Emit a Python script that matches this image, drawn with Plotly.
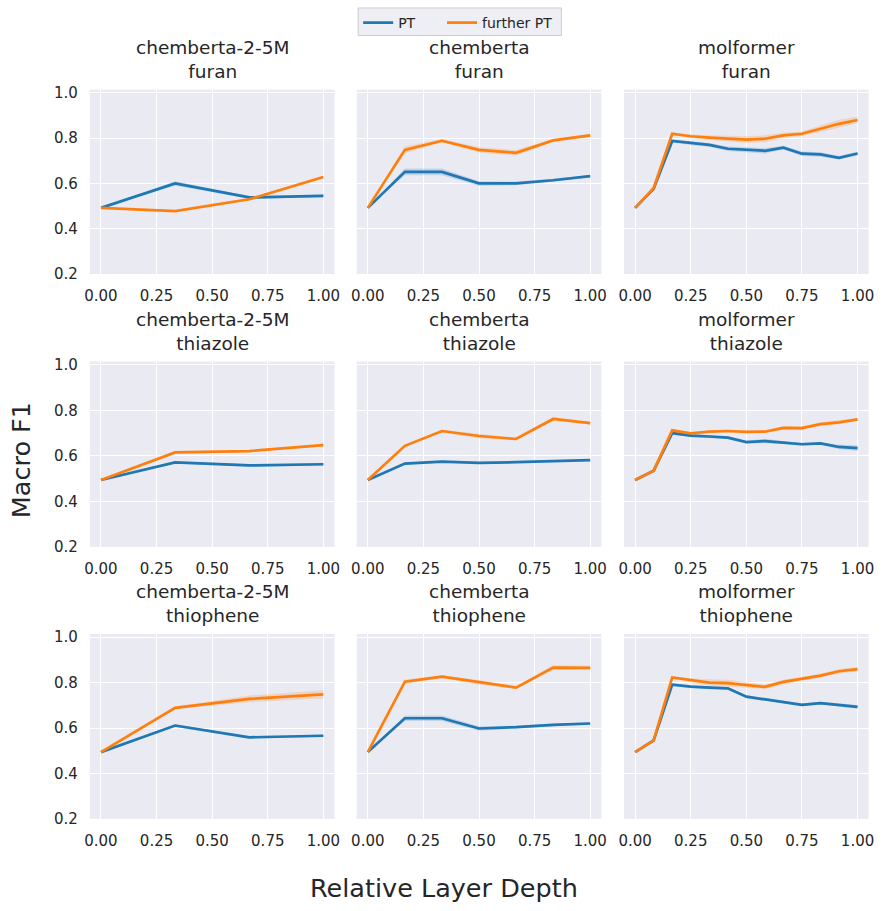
import plotly.graph_objects as go

# ---------------- data ----------------
models = ["chemberta-2-5M", "chemberta", "molformer"]
datasets = ["furan", "thiazole", "thiophene"]

x_c25 = [0, 1/3, 2/3, 1]
x_chem = [0, 1/6, 2/6, 3/6, 4/6, 5/6, 1]
x_mol = [i / 12 for i in range(13)]

# furan
furan_c25_pt = [0.492, 0.600, 0.538, 0.545]
furan_c25_fpt = [0.492, 0.478, 0.530, 0.628]
furan_chem_pt = [0.492, 0.651, 0.651, 0.600, 0.600, 0.614, 0.632]
furan_chem_fpt = [0.492, 0.748, 0.788, 0.748, 0.735, 0.790, 0.812]
furan_mol_pt = [0.492, 0.576, 0.787, 0.777, 0.770, 0.753, 0.748, 0.744, 0.758, 0.731, 0.728, 0.713, 0.732]
furan_mol_fpt = [0.492, 0.580, 0.819, 0.808, 0.802, 0.797, 0.793, 0.797, 0.812, 0.819, 0.842, 0.863, 0.880]

# thiazole
thiazole_c25_pt = [0.494, 0.571, 0.558, 0.563]
thiazole_c25_fpt = [0.494, 0.615, 0.621, 0.647]
thiazole_chem_pt = [0.494, 0.566, 0.575, 0.569, 0.572, 0.576, 0.581]
thiazole_chem_fpt = [0.494, 0.644, 0.709, 0.687, 0.674, 0.762, 0.744]
thiazole_mol_pt = [0.494, 0.535, 0.700, 0.689, 0.685, 0.680, 0.660, 0.665, 0.658, 0.651, 0.655, 0.639, 0.634]
thiazole_mol_fpt = [0.494, 0.535, 0.712, 0.699, 0.706, 0.709, 0.705, 0.706, 0.723, 0.722, 0.739, 0.747, 0.760]

# thiophene
thiophene_c25_pt = [0.494, 0.611, 0.559, 0.566]
thiophene_c25_fpt = [0.494, 0.689, 0.728, 0.748]
thiophene_chem_pt = [0.494, 0.643, 0.643, 0.598, 0.604, 0.614, 0.620]
thiophene_chem_fpt = [0.494, 0.804, 0.826, 0.801, 0.778, 0.866, 0.865]
thiophene_mol_pt = [0.494, 0.546, 0.791, 0.782, 0.778, 0.775, 0.738, 0.726, 0.713, 0.702, 0.710, 0.702, 0.693]
thiophene_mol_fpt = [0.494, 0.546, 0.823, 0.810, 0.800, 0.798, 0.790, 0.781, 0.803, 0.817, 0.831, 0.850, 0.859]

# confidence-band half widths (estimated)
furan_c25_pt_ci = [0, 0.010, 0.006, 0.006]
furan_c25_fpt_ci = [0, 0.004, 0.005, 0.006]
furan_chem_pt_ci = [0, 0.015, 0.015, 0.010, 0.008, 0.006, 0.005]
furan_chem_fpt_ci = [0, 0.015, 0.008, 0.012, 0.012, 0.006, 0.008]
furan_mol_pt_ci = [0, 0.004, 0.006, 0.008, 0.008, 0.010, 0.010, 0.012, 0.008, 0.010, 0.010, 0.008, 0.008]
furan_mol_fpt_ci = [0, 0.004, 0.006, 0.008, 0.010, 0.012, 0.015, 0.015, 0.012, 0.010, 0.015, 0.018, 0.015]
thiazole_c25_pt_ci = [0, 0.005, 0.005, 0.005]
thiazole_c25_fpt_ci = [0, 0.006, 0.004, 0.006]
thiazole_chem_pt_ci = [0, 0.005, 0.004, 0.004, 0.004, 0.004, 0.004]
thiazole_chem_fpt_ci = [0, 0.004, 0.006, 0.010, 0.006, 0.008, 0.006]
thiazole_mol_pt_ci = [0, 0.004, 0.006, 0.006, 0.006, 0.006, 0.006, 0.010, 0.006, 0.006, 0.006, 0.010, 0.012]
thiazole_mol_fpt_ci = [0, 0.004, 0.006, 0.005, 0.005, 0.005, 0.006, 0.006, 0.008, 0.008, 0.008, 0.008, 0.006]
thiophene_c25_pt_ci = [0, 0.006, 0.006, 0.004]
thiophene_c25_fpt_ci = [0, 0.006, 0.015, 0.018]
thiophene_chem_pt_ci = [0, 0.012, 0.012, 0.010, 0.006, 0.006, 0.005]
thiophene_chem_fpt_ci = [0, 0.010, 0.006, 0.010, 0.006, 0.010, 0.010]
thiophene_mol_pt_ci = [0, 0.005, 0.006, 0.006, 0.006, 0.006, 0.006, 0.006, 0.006, 0.006, 0.006, 0.006, 0.008]
thiophene_mol_fpt_ci = [0, 0.005, 0.006, 0.008, 0.015, 0.015, 0.012, 0.010, 0.010, 0.010, 0.008, 0.010, 0.010]

y_ticks = [0.2, 0.4, 0.6, 0.8, 1.0]
x_ticks = [0.0, 0.25, 0.5, 0.75, 1.0]
x_ticklabels = ["0.00", "0.25", "0.50", "0.75", "1.00"]

panels = [
    [(x_c25, furan_c25_pt, furan_c25_pt_ci, furan_c25_fpt, furan_c25_fpt_ci),
     (x_chem, furan_chem_pt, furan_chem_pt_ci, furan_chem_fpt, furan_chem_fpt_ci),
     (x_mol, furan_mol_pt, furan_mol_pt_ci, furan_mol_fpt, furan_mol_fpt_ci)],
    [(x_c25, thiazole_c25_pt, thiazole_c25_pt_ci, thiazole_c25_fpt, thiazole_c25_fpt_ci),
     (x_chem, thiazole_chem_pt, thiazole_chem_pt_ci, thiazole_chem_fpt, thiazole_chem_fpt_ci),
     (x_mol, thiazole_mol_pt, thiazole_mol_pt_ci, thiazole_mol_fpt, thiazole_mol_fpt_ci)],
    [(x_c25, thiophene_c25_pt, thiophene_c25_pt_ci, thiophene_c25_fpt, thiophene_c25_fpt_ci),
     (x_chem, thiophene_chem_pt, thiophene_chem_pt_ci, thiophene_chem_fpt, thiophene_chem_fpt_ci),
     (x_mol, thiophene_mol_pt, thiophene_mol_pt_ci, thiophene_mol_fpt, thiophene_mol_fpt_ci)],
]

# ---------------- layout geometry ----------------
W, H = 887, 911
col_px = [(85, 333), (355.5, 603.5), (626.5, 874.5)]
row_px = [(85, 272.5), (361.5, 550), (638.5, 826.5)]

BLUE = "#1f77b4"
ORANGE = "#ff7f0e"
BLUE_BAND = "rgba(31,119,180,0.2)"
ORANGE_BAND = "rgba(255,127,14,0.2)"
TXT = "#262626"
FONT = "DejaVu Sans"

fig = go.Figure()
layout_axes = {}
annotations = []

for r in range(3):
    for c in range(3):
        idx = r * 3 + c + 1
        xa = "x" if idx == 1 else f"x{idx}"
        ya = "y" if idx == 1 else f"y{idx}"
        xs, pt, ptci, fpt, fptci = panels[r][c]
        for ys, ci, band in [(pt, ptci, BLUE_BAND), (fpt, fptci, ORANGE_BAND)]:
            upper = [v + e for v, e in zip(ys, ci)]
            lower = [v - e for v, e in zip(ys, ci)]
            fig.add_trace(go.Scatter(
                x=list(xs) + list(xs)[::-1], y=upper + lower[::-1],
                fill="toself", fillcolor=band, line=dict(width=0),
                mode="lines", hoverinfo="skip", showlegend=False,
                xaxis=xa, yaxis=ya))
        for ys, col, name, lg in [(pt, BLUE, "PT", "legend"),
                                   (fpt, ORANGE, "further PT", "legend2")]:
            fig.add_trace(go.Scatter(
                x=xs, y=ys, mode="lines", line=dict(color=col, width=2.7),
                name=name, showlegend=(idx == 1), legendgroup=name, legend=lg,
                xaxis=xa, yaxis=ya))

        x0, x1 = col_px[c]
        y0, y1 = row_px[r]
        key_x = "xaxis" if idx == 1 else f"xaxis{idx}"
        key_y = "yaxis" if idx == 1 else f"yaxis{idx}"
        layout_axes[key_x] = dict(
            domain=[x0 / W, x1 / W], anchor=ya, range=[-0.05, 1.05],
            tickvals=x_ticks, ticktext=x_ticklabels,
            showgrid=True, gridcolor="white", gridwidth=1.3,
            zeroline=False, showline=False,
            ticks="outside", ticklen=8, tickcolor="rgba(0,0,0,0)",
            tickfont=dict(family=FONT, size=15, color=TXT))
        layout_axes[key_y] = dict(
            domain=[1 - y1 / H, 1 - y0 / H], anchor=xa, range=[0.2, 1.014],
            tickvals=y_ticks, ticktext=[f"{v:.1f}" for v in y_ticks],
            showticklabels=(c == 0),
            showgrid=True, gridcolor="white", gridwidth=1.3,
            zeroline=False, showline=False,
            ticks="outside", ticklen=8, tickcolor="rgba(0,0,0,0)",
            tickfont=dict(family=FONT, size=15, color=TXT))
        annotations.append(dict(
            text=f"{models[c]}<br>{datasets[r]}", xref="paper", yref="paper",
            x=(x0 + x1) / 2 / W, y=1 - (y0 - 6) / H,
            xanchor="center", yanchor="bottom", showarrow=False,
            font=dict(family=FONT, size=18.5, color=TXT)))

annotations.append(dict(
    text="Relative Layer Depth", xref="paper", yref="paper",
    x=0.5, y=1 - 897 / H, xanchor="center", yanchor="middle", showarrow=False,
    font=dict(family=FONT, size=25.5, color=TXT)))
annotations.append(dict(
    text="Macro F1", xref="paper", yref="paper", textangle=-90,
    x=16 / W, y=1 - 462 / H, xanchor="center", yanchor="middle", showarrow=False,
    font=dict(family=FONT, size=25.5, color=TXT)))

legend_common = dict(orientation="h", yanchor="top", xanchor="left",
                     bgcolor="rgba(0,0,0,0)", borderwidth=0,
                     font=dict(family=FONT, size=14, color=TXT), itemwidth=30)

fig.update_layout(
    width=W, height=H, margin=dict(l=0, r=0, t=0, b=0),
    paper_bgcolor="white", plot_bgcolor="#EAEAF2",
    annotations=annotations,
    shapes=[dict(type="rect", xref="paper", yref="paper",
                 x0=357 / W, x1=563 / W, y0=1 - 30 / H, y1=1 - 2 / H,
                 fillcolor="rgba(234,234,242,0.8)", line=dict(color="#cccccc", width=1),
                 layer="below")],
    legend=dict(x=357 / W, y=1 - 1 / H, **legend_common),
    legend2=dict(x=442 / W, y=1 - 1 / H, **legend_common),
    **layout_axes)

fig.write_html("out.html")
